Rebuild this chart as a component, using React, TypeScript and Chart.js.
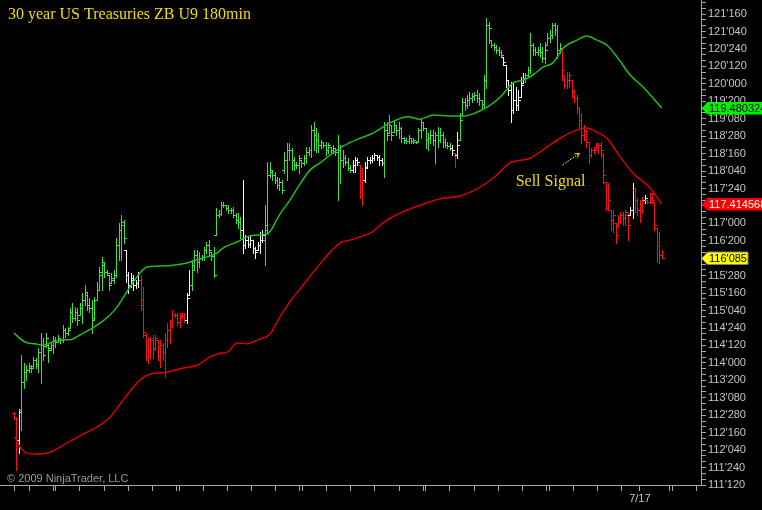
import React, { useEffect, useRef } from 'react';
import { Chart, registerables } from 'chart.js';

Chart.register(...registerables);

const TITLE = '30 year US Treasuries ZB U9 180min';
const COPYRIGHT = '\u00A9 2009 NinjaTrader, LLC';

// 180-minute bars: [open, high, low, close]
const bars: number[][] = [
  [112.92,112.94,112.79,112.81],[112.81,112.83,111.70,112.79],[112.34,113.01,112.06,112.94],[112.99,114.17,112.56,113.59],[113.59,114.00,113.46,113.80],
  [113.80,113.95,113.63,113.85],[113.85,114.00,113.80,113.93],[113.89,113.95,113.80,113.89],[113.93,114.12,113.89,114.06],[114.06,114.10,113.89,113.97],
  [113.97,114.32,113.80,114.23],[114.23,114.64,113.57,114.38],[114.38,114.53,114.06,114.17],[114.36,114.64,114.34,114.53],[114.38,114.43,114.02,114.28],
  [114.32,114.45,114.28,114.38],[114.38,114.58,114.21,114.49],[114.49,114.55,114.34,114.45],[114.45,114.60,114.45,114.53],[114.49,114.53,114.43,114.49],
  [114.49,114.81,114.45,114.71],[114.71,114.75,114.55,114.64],[114.64,114.77,114.60,114.71],[114.75,115.18,114.75,115.09],[115.09,115.29,114.88,114.96],
  [114.96,115.20,114.92,115.09],[115.09,115.18,114.81,114.92],[115.03,115.29,115.03,115.18],[115.18,115.50,114.86,115.35],[115.35,115.67,115.24,115.52],
  [115.46,115.50,115.14,115.24],[115.24,115.39,115.09,115.18],[115.18,115.35,114.64,114.92],[114.96,115.41,114.92,115.35],[115.35,115.74,115.35,115.57],
  [115.57,116.06,115.57,115.95],[115.89,116.27,115.57,116.17],[116.10,116.15,115.84,115.95],[115.95,116.00,115.89,115.93],[115.89,115.89,115.57,115.67],
  [115.72,115.93,115.72,115.82],[115.78,116.00,115.72,115.89],[115.89,116.68,115.84,116.53],[116.53,117.01,116.21,116.86],[116.86,117.18,116.21,117.03],
  [116.96,117.07,116.58,116.68],[116.43,116.43,115.74,115.89],[115.89,115.95,115.50,115.67],[115.67,115.93,115.63,115.82],[115.78,115.89,115.57,115.67],
  [115.67,115.78,115.61,115.72],[115.72,115.95,115.63,115.78],[115.78,115.89,115.14,115.24],[115.35,115.63,114.55,114.66],[114.60,114.64,114.06,114.38],
  [114.38,114.53,114.00,114.10],[114.17,114.55,114.12,114.49],[114.49,114.60,114.10,114.28],[114.32,114.60,114.28,114.53],[114.49,114.49,114.06,114.17],
  [114.17,114.49,113.91,114.38],[114.38,114.43,114.06,114.23],[114.23,114.64,113.69,114.49],[114.49,114.86,114.34,114.71],[114.71,114.92,114.43,114.81],
  [114.81,115.14,114.77,115.03],[115.03,115.07,114.98,115.03],[115.03,115.07,114.81,114.88],[114.88,115.07,114.77,114.96],[115.01,115.07,114.98,115.01],
  [115.01,115.07,114.88,114.92],[114.92,115.50,114.86,115.39],[115.46,116.00,115.46,115.67],[115.67,116.21,115.57,116.00],[116.10,116.43,116.00,116.32],
  [116.32,116.43,115.95,116.17],[116.17,116.38,116.06,116.25],[116.25,116.32,116.21,116.27],[116.27,116.49,116.21,116.43],[116.43,116.60,116.36,116.53],
  [116.53,116.64,116.32,116.43],[116.38,116.38,116.21,116.30],[116.30,116.49,115.84,115.89],[116.75,117.33,116.75,117.18],[117.18,117.29,117.13,117.20],
  [117.20,117.46,117.18,117.39],[117.39,117.46,117.35,117.39],[117.39,117.39,117.29,117.33],[117.33,117.39,117.22,117.29],[117.29,117.33,117.22,117.29],
  [117.29,117.35,117.13,117.18],[117.18,117.22,117.01,117.07],[117.07,117.22,116.90,117.03],[117.03,117.13,116.68,116.86],[116.86,117.93,116.36,116.53],
  [116.53,116.75,116.47,116.64],[116.64,116.70,116.49,116.55],[116.55,116.75,116.49,116.64],[116.64,116.64,116.36,116.47],[116.47,116.49,116.25,116.38],
  [116.43,116.60,116.43,116.53],[116.53,116.81,116.36,116.64],[116.64,116.86,116.60,116.75],[116.64,117.39,116.10,116.86],[116.96,118.32,116.79,118.04],
  [118.04,118.32,117.99,118.15],[118.10,118.15,117.93,118.04],[118.04,118.10,117.87,117.93],[117.93,117.99,117.76,117.82],[117.82,117.97,117.72,117.89],
  [117.89,117.93,117.65,117.72],[118.15,118.53,118.08,118.36],[118.36,118.73,117.93,118.58],[118.58,118.73,118.36,118.58],[118.58,118.62,118.15,118.36],
  [118.36,118.42,118.15,118.25],[118.25,118.32,118.19,118.25],[118.25,118.47,118.08,118.40],[118.36,118.36,118.21,118.30],[118.30,118.47,118.25,118.40],
  [118.40,118.64,118.30,118.53],[118.53,118.64,118.47,118.58],[118.58,119.11,118.42,119.01],[119.01,119.18,118.58,118.90],[118.90,119.05,118.53,118.79],
  [118.79,118.94,118.53,118.68],[118.68,118.79,118.62,118.75],[118.75,118.75,118.64,118.68],[118.68,118.75,118.47,118.58],[118.58,118.73,118.51,118.68],
  [118.64,118.64,118.51,118.58],[118.58,118.68,118.51,118.62],[118.62,118.62,118.47,118.53],[118.53,118.90,117.50,118.58],[118.58,118.68,117.87,118.36],
  [118.36,118.58,118.21,118.40],[118.40,118.47,118.25,118.32],[118.32,118.40,118.15,118.19],[118.19,118.25,118.10,118.15],[118.15,118.36,118.10,118.25],
  [118.25,118.42,118.10,118.36],[118.36,118.40,118.25,118.32],[118.25,118.25,117.54,117.82],[117.82,118.19,117.39,117.93],[117.93,118.32,117.89,118.19],
  [118.21,118.42,118.21,118.36],[118.36,118.42,118.30,118.36],[118.36,118.47,118.32,118.40],[118.40,118.51,118.36,118.47],[118.47,118.47,118.36,118.42],
  [118.42,118.47,118.25,118.36],[118.36,118.40,118.25,118.30],[118.30,119.18,117.99,119.01],[119.01,119.18,118.79,118.90],[118.94,119.33,118.94,119.11],
  [119.11,119.11,118.79,118.90],[118.96,119.22,118.96,119.11],[119.11,119.11,118.90,119.01],[119.01,119.18,118.83,119.05],[119.05,119.07,118.75,118.83],
  [118.83,118.85,118.73,118.79],[118.79,118.83,118.73,118.77],[118.77,118.90,118.73,118.83],[118.83,118.83,118.73,118.77],[118.77,118.83,118.73,118.79],
  [118.75,118.77,118.73,118.75],[118.75,119.05,118.75,119.01],[119.01,119.26,118.83,119.18],[119.18,119.18,119.01,119.05],[119.05,119.05,118.62,118.79],
  [118.79,118.94,118.58,118.83],[118.83,119.01,118.73,118.90],[118.90,119.01,118.68,118.79],[118.79,118.96,118.30,118.90],[118.90,119.07,118.64,118.79],
  [118.79,119.05,118.75,118.90],[118.90,118.96,118.64,118.75],[118.75,118.83,118.64,118.68],[118.68,118.75,118.62,118.66],[118.66,118.73,118.58,118.62],
  [118.62,118.68,118.47,118.58],[118.51,118.51,118.21,118.47],[118.47,118.96,118.40,118.68],[118.79,119.37,118.79,119.22],[119.33,119.69,119.33,119.61],
  [119.61,119.69,119.44,119.54],[119.54,119.76,119.48,119.65],[119.65,119.82,119.54,119.69],[119.69,119.80,119.61,119.74],[119.74,119.82,119.65,119.76],
  [119.76,119.87,119.61,119.69],[119.69,119.80,119.54,119.65],[119.65,119.65,119.48,119.56],[119.56,120.19,119.50,120.08],[120.08,121.41,119.91,121.26],
  [121.26,121.33,120.88,121.20],[120.94,120.94,120.79,120.83],[120.83,120.88,120.73,120.79],[120.79,120.83,120.66,120.73],[120.73,120.79,120.62,120.68],
  [120.68,120.73,120.57,120.62],[120.57,120.57,120.40,120.47],[120.40,120.40,119.93,120.08],[120.08,120.08,119.76,119.87],[119.87,120.04,119.18,119.44],
  [119.44,120.02,119.37,119.65],[119.65,119.93,119.44,119.54],[119.54,119.87,119.44,119.65],[119.72,120.15,119.72,119.97],[120.02,120.23,120.02,120.12],
  [120.12,120.23,120.04,120.19],[120.19,120.36,120.15,120.30],[120.30,121.09,120.23,120.83],[120.83,120.88,120.62,120.73],[120.73,120.79,120.62,120.68],
  [120.68,120.79,120.62,120.73],[120.73,120.88,120.57,120.68],[120.68,120.79,120.47,120.55],[120.55,120.90,120.45,120.73],[120.83,121.09,120.83,120.98],
  [120.98,121.16,120.90,121.05],[121.05,121.31,120.98,121.26],[121.26,121.31,121.05,121.16],[121.16,121.26,120.55,120.73],[120.73,120.88,120.66,120.77],
  [120.73,120.73,120.08,120.30],[120.19,120.19,119.91,119.97],[119.97,120.25,119.91,120.08],[120.08,120.25,119.93,120.19],[120.08,120.08,119.72,119.87],
  [119.82,119.87,119.61,119.69],[119.69,119.76,119.37,119.48],[119.48,119.50,119.05,119.22],[119.22,119.37,118.73,118.90],[118.90,119.11,118.79,119.01],
  [119.01,119.01,118.64,118.75],[118.75,118.75,118.30,118.47],[118.47,118.62,118.42,118.58],[118.58,118.64,118.51,118.58],[118.58,118.73,118.58,118.64],
  [118.64,118.73,118.51,118.68],[118.68,118.75,118.42,118.58],[118.47,118.51,117.87,118.04],[117.89,117.89,117.29,117.72],[117.72,117.87,117.29,117.50],
  [117.29,117.29,116.86,117.07],[117.07,117.29,116.81,117.18],[117.01,117.01,116.58,116.75],[116.96,117.18,116.92,117.11],[117.11,117.24,117.01,117.18],
  [117.18,117.24,116.96,117.11],[117.11,117.29,116.96,117.24],[117.18,117.22,116.64,116.96],[117.18,117.35,117.18,117.29],[117.29,117.87,117.11,117.72],
  [117.72,117.76,117.24,117.50],[117.50,117.54,117.18,117.29],[117.29,117.50,117.03,117.39],[117.39,117.56,117.22,117.50],[117.50,117.61,117.44,117.54],
  [117.50,117.50,117.44,117.46],[117.46,117.65,117.44,117.54],[117.54,117.65,117.44,117.50],[117.46,117.46,116.86,116.96],[116.90,116.90,116.17,116.53],
  [116.53,116.81,116.15,116.32],[116.32,116.43,116.25,116.265625],
];

// one letter per bar: G = green, R = red, W = white
const barColors = [
  'RRW',
  'GGGGGGGGGG', 'GGGGGGGGGG', 'GGGGGGGGGG', 'GGGGGGGGGG', 'GGG',
  'WWWWWW',
  'RRRRRRRRRR', 'RRRRRRRRR',
  'WW',
  'GGGGGGGGGG', 'GGGGGGGGGG', 'G',
  'WWWWWWWWW',
  'GGGGGGGGGG', 'GGGGGGGGGG', 'GGGGGGGGGG', 'GGGGGG',
  'WWW',
  'RR',
  'WWWWWWWW',
  'GGGGGGGGGG', 'GGGGGGGGGG', 'GGGGGGGG',
  'W', 'R', 'W',
  'GGGGGGGGGG', 'GGGGGGGG',
  'WWWWWWWWW',
  'GGGGGGGGGG', 'GGGGG',
  'RRRRRRRRRR', 'RRRRRRRRRR', 'RRRRRRRR',
  'WW', 'RRRR', 'W', 'RRRRRRR',
].join('');

// moving averages: [bar index, price]
const fastMA: number[][] = [
  [0,114.64],[4.5,114.45],[8.6,114.41],[11.9,114.38],[14.8,114.43],[18.9,114.49],[23.8,114.51],[27.1,114.60],
  [34.1,114.81],[39.4,115.03],[42.3,115.20],[47.6,115.63],[51.7,115.93],[54.6,116.06],[58.7,116.08],[65.3,116.10],
  [71,116.15],[73.5,116.19],[79.3,116.28],[83.4,116.36],[85.8,116.47],[91.6,116.60],[95.7,116.71],[99.8,116.75],
  [103.9,116.77],[109.2,117.20],[113.3,117.50],[117.5,117.85],[121.6,118.15],[125.7,118.30],[129.8,118.47],[135.1,118.66],
  [142.1,118.83],[147.4,118.94],[154.4,119.16],[161.8,119.29],[166.7,119.24],[172.1,119.33],[179.1,119.31],[185.2,119.31],
  [190.1,119.39],[194.3,119.50],[199.6,119.71],[204.9,120.02],[209,120.08],[213.1,120.19],[217.2,120.36],[221.3,120.45],
  [225.5,120.77],[231.2,120.94],[235.3,121.03],[239.4,120.94],[243.5,120.83],[247.6,120.58],[253,120.19],[258.3,119.93],
  [266,119.480324],
];
const slowMA: number[][] = [
  [0.4,112.41],[2.5,112.19],[5.3,112.06],[9.9,112.04],[14.8,112.08],[21.8,112.28],[30,112.51],[35.3,112.66],
  [39.4,112.83],[44.8,113.20],[51.7,113.63],[55.9,113.76],[62.8,113.80],[69.4,113.89],[75.2,113.95],[80.5,114.13],
  [84.6,114.21],[87.5,114.23],[91.6,114.43],[95.7,114.41],[99.8,114.49],[105.1,114.62],[109.2,114.99],[114.6,115.41],
  [117.5,115.59],[123.6,116.00],[133.9,116.58],[138,116.64],[142.1,116.71],[147,116.81],[150.3,116.96],[154.4,117.11],
  [158.5,117.22],[166.7,117.39],[175,117.53],[183.2,117.59],[189.3,117.72],[196.7,117.97],[203.7,118.30],[211.9,118.40],
  [217.2,118.58],[224.2,118.83],[231.2,119.01],[235.3,119.05],[239.4,118.96],[243.5,118.83],[248.9,118.43],[254.2,118.08],
  [261.2,117.76],[266,117.414568],
];

// labelled price levels (every 12/32)
const priceLabels = [
  111.375, 111.75, 112.125, 112.5, 112.875, 113.25, 113.625, 114, 114.375, 114.75,
  115.125, 115.5, 115.875, 116.25, 116.625, 117, 117.375, 117.75, 118.125, 118.5,
  118.875, 119.25, 119.625, 120, 120.375, 120.75, 121.125, 121.5,
];
// session ticks on the time axis (bar index)
const dateTicks = [0, 6.3, 16.1, 17.2, 27.1, 37.1, 46.9, 56.8, 66.8, 67.9, 77.8, 87.7, 97.6, 107.5, 117.4, 118.5,
  128.4, 138.3, 148.2, 158.1, 168, 169.1, 179, 188.9, 198.8, 208.7, 218.6, 219.7, 229.6, 239.5, 249.4, 257, 269.2, 270.3, 280.2];
const dateLabels: Record<string, string> = { '257': '7/17' };

const signalText = 'Sell Signal';
const signalAt = [206, 117.80];
const arrowFrom = [225.2, 118.255];
const arrowTo = [232.2, 118.507];

const BAR_COLORS: Record<string, string> = { G: '#3ee03e', R: '#ff1010', W: '#f4f4f4' };
const AXIS_GREY = '#a8a8a8';
const LABEL_GREY = '#c4c4c4';
const YELLOW = '#f4dc00';
const SANS = '"Liberation Sans", Arial, sans-serif';
const SERIF = '"Liberation Serif", "Times New Roman", serif';

function fmt32(v: number): string {
  const whole = Math.floor(v + 1e-9);
  const frac = Math.round((v - whole) * 320);
  return `${whole}'${String(frac).padStart(3, '0')}`;
}

const ohlcPlugin = {
  id: 'ohlcBars',
  beforeDraw(chart: any) {
    const ctx = chart.ctx;
    ctx.save();
    ctx.fillStyle = '#000';
    ctx.fillRect(0, 0, chart.width, chart.height);
    ctx.restore();
  },
  beforeDatasetsDraw(chart: any) {
    const { ctx, chartArea, scales } = chart;
    const x = scales.x, y = scales.y;
    ctx.save();
    ctx.beginPath();
    ctx.rect(chartArea.left, chartArea.top, chartArea.right - chartArea.left, chartArea.bottom - chartArea.top);
    ctx.clip();
    ctx.lineWidth = 1;
    bars.forEach((b, i) => {
      const [o, h, l, c] = b;
      const xi = Math.round(x.getPixelForValue(i));
      const yh = Math.round(y.getPixelForValue(h));
      const yl = Math.round(y.getPixelForValue(l));
      const yo = Math.round(y.getPixelForValue(o)) + 0.5;
      const yc = Math.round(y.getPixelForValue(c)) + 0.5;
      ctx.strokeStyle = BAR_COLORS[barColors[i]] || '#fff';
      ctx.beginPath();
      ctx.moveTo(xi + 0.5, yh);
      ctx.lineTo(xi + 0.5, yl + 1);
      ctx.moveTo(xi - 2, yo);
      ctx.lineTo(xi, yo);
      ctx.moveTo(xi + 1, yc);
      ctx.lineTo(xi + 3, yc);
      ctx.stroke();
    });
    ctx.restore();
  },
  afterDraw(chart: any) {
    const { ctx, chartArea, scales } = chart;
    const x = scales.x, y = scales.y;
    ctx.save();
    // title
    ctx.fillStyle = YELLOW;
    ctx.font = `16px ${SERIF}`;
    ctx.textBaseline = 'alphabetic';
    ctx.textAlign = 'left';
    ctx.fillText(TITLE, 8, 19);
    // copyright
    ctx.fillStyle = '#9c9c9c';
    ctx.font = `11px ${SANS}`;
    ctx.fillText(COPYRIGHT, 7, 482);
    // sell signal annotation
    ctx.fillStyle = YELLOW;
    ctx.font = `16px ${SERIF}`;
    ctx.fillText(signalText, x.getPixelForValue(signalAt[0]), y.getPixelForValue(signalAt[1]));
    const ax0 = x.getPixelForValue(arrowFrom[0]), ay0 = y.getPixelForValue(arrowFrom[1]);
    const ax1 = x.getPixelForValue(arrowTo[0]), ay1 = y.getPixelForValue(arrowTo[1]);
    ctx.strokeStyle = YELLOW;
    ctx.lineWidth = 1;
    ctx.setLineDash([2, 1]);
    ctx.beginPath();
    ctx.moveTo(ax0, ay0);
    ctx.lineTo(ax1, ay1);
    ctx.stroke();
    ctx.setLineDash([]);
    const ang = Math.atan2(ay1 - ay0, ax1 - ax0);
    ctx.beginPath();
    ctx.moveTo(ax1, ay1);
    ctx.lineTo(ax1 - 5 * Math.cos(ang - 0.5), ay1 - 5 * Math.sin(ang - 0.5));
    ctx.moveTo(ax1, ay1);
    ctx.lineTo(ax1 - 5 * Math.cos(ang + 0.5), ay1 - 5 * Math.sin(ang + 0.5));
    ctx.stroke();

    // price flags on the axis
    const right = chartArea.right;
    const flag = (price: number, text: string, fill: string, color: string, width: number | null) => {
      const py = Math.round(y.getPixelForValue(price)) + 0.5;
      const end = width ? right + width : chart.width + 2;
      ctx.beginPath();
      ctx.moveTo(right + 0.5, py);
      ctx.lineTo(right + 6.5, py - 6.5);
      ctx.lineTo(end, py - 6.5);
      ctx.lineTo(end, py + 6);
      ctx.lineTo(right + 6.5, py + 6);
      ctx.closePath();
      ctx.fillStyle = fill;
      ctx.fill();
      if (width) {
        ctx.strokeStyle = '#808080';
        ctx.lineWidth = 1;
        ctx.stroke();
      }
      ctx.fillStyle = color;
      ctx.font = `11px ${SANS}`;
      ctx.textBaseline = 'middle';
      ctx.fillText(text, right + 8, py);
    };
    const lastFast = fastMA[fastMA.length - 1][1];
    const lastSlow = slowMA[slowMA.length - 1][1];
    const lastClose = bars[bars.length - 1][3];
    flag(lastFast, lastFast.toFixed(6), '#00f000', '#000', null);
    flag(lastSlow, lastSlow.toFixed(6), '#ff0000', '#fff', null);
    flag(lastClose, fmt32(lastClose), '#ffff00', '#000', 47);
    ctx.restore();
  },
};

export default function App() {
  const ref = useRef<HTMLCanvasElement>(null);
  useEffect(() => {
    document.body.style.margin = '0';
    document.body.style.background = '#000';
    const canvas = ref.current!;
    const chart = new Chart(canvas, {
      type: 'line',
      data: {
        datasets: [
          {
            label: 'Fast MA',
            data: fastMA.map(([i, p]) => ({ x: i, y: p })),
            borderColor: '#1cc01c',
            borderWidth: 1.5,
            pointRadius: 0,
            cubicInterpolationMode: 'monotone',
          },
          {
            label: 'Slow MA',
            data: slowMA.map(([i, p]) => ({ x: i, y: p })),
            borderColor: '#d80000',
            borderWidth: 1.5,
            pointRadius: 0,
            cubicInterpolationMode: 'monotone',
          },
        ],
      },
      options: {
        animation: false,
        responsive: false,
        devicePixelRatio: 1,
        layout: { padding: 0 },
        plugins: { legend: { display: false }, tooltip: { enabled: false }, title: { display: false } },
        events: [],
        scales: {
          x: {
            type: 'linear',
            position: 'bottom',
            min: -5.75,
            max: 282.1,
            afterBuildTicks: (s: any) => { s.ticks = dateTicks.map((v) => ({ value: v })); },
            afterFit: (s: any) => { s.height = 25; s.paddingLeft = 0; s.paddingRight = 0; },
            ticks: {
              autoSkip: false,
              maxRotation: 0,
              padding: 1,
              color: LABEL_GREY,
              font: { family: SANS, size: 11 },
              callback: (v: any) => dateLabels[String(v)] ?? '',
            },
            grid: { drawOnChartArea: false, drawTicks: true, tickLength: 6, color: AXIS_GREY },
            border: { display: true, color: AXIS_GREY },
          },
          y: {
            type: 'linear',
            position: 'right',
            min: 111.375,
            max: 121.8025,
            afterBuildTicks: (s: any) => {
              const t: any[] = [];
              priceLabels.forEach((p) => {
                t.push({ value: p });
                if (p + 0.125 <= s.max) t.push({ value: p + 0.125 });
                if (p + 0.25 <= s.max) t.push({ value: p + 0.25 });
              });
              s.ticks = t;
            },
            afterFit: (s: any) => { s.width = 61; s.paddingTop = 0; s.paddingBottom = 0; },
            ticks: {
              autoSkip: false,
              padding: 2,
              color: LABEL_GREY,
              font: { family: SANS, size: 11 },
              callback: (v: any) => (priceLabels.some((p) => Math.abs(p - v) < 1e-6) ? fmt32(v) : ''),
            },
            grid: { drawOnChartArea: false, drawTicks: true, tickLength: 5, color: AXIS_GREY },
            border: { display: true, color: AXIS_GREY },
          },
        },
      } as any,
      plugins: [ohlcPlugin],
    });
    return () => chart.destroy();
  }, []);
  return <canvas ref={ref} width={762} height={510} style={{ display: 'block' }} />;
}
